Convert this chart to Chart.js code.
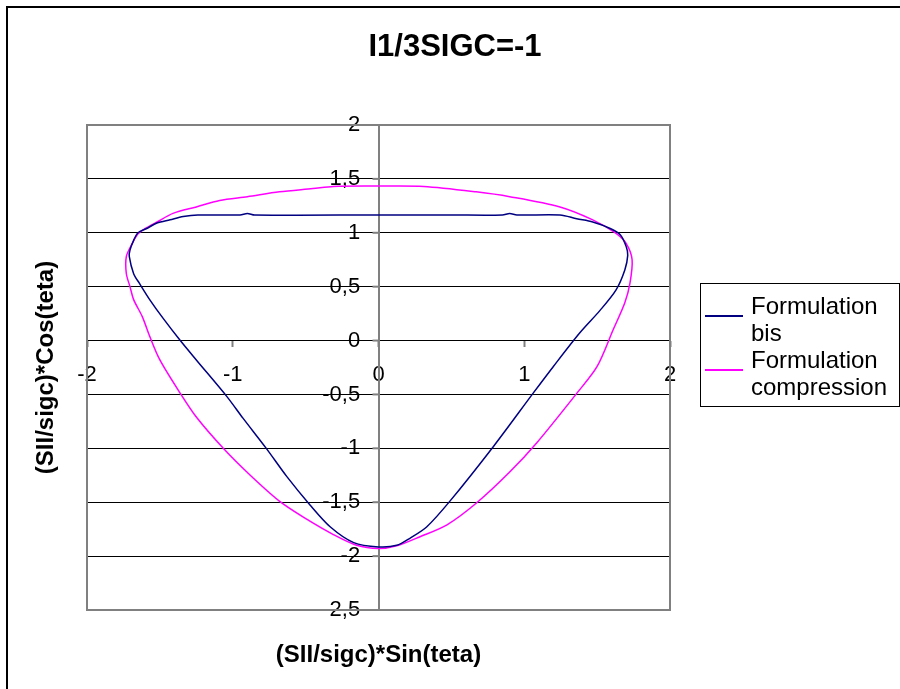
<!DOCTYPE html>
<html>
<head>
<meta charset="utf-8">
<script src="https://cdn.jsdelivr.net/npm/chart.js@4.4.1/dist/chart.umd.min.js"></script>
<style>
  html, body { margin: 0; padding: 0; background: #fff; }
  canvas { display: block; }
</style>
</head>
<body>
<canvas id="chart" width="900" height="689"></canvas>
<script>
// Formulation bis (closed loop, clockwise from top)
const bisX = [0, 0.5, 0.85, 0.9, 0.95, 1.245, 1.36, 1.47, 1.59, 1.66, 1.70, 1.71, 1.69, 1.63, 1.52, 1.38, 1.20, 1.06, 0.79, 0.49, 0.33, 0.22, 0.125, 0,
  -0.17, -0.33, -0.47, -0.63, -0.77, -0.93, -1.04, -1.25, -1.36, -1.48, -1.57, -1.64, -1.68, -1.71, -1.705, -1.68, -1.65, -1.59, -1.52, -1.43, -1.34, -1.24, -0.95, -0.9, -0.85, 0];
const bisY = [1.165, 1.165, 1.165, 1.18, 1.165, 1.165, 1.13, 1.10, 1.04, 0.98, 0.87, 0.79, 0.655, 0.47, 0.28, 0.07, -0.24, -0.49, -0.98, -1.49, -1.73, -1.83, -1.90, -1.915,
  -1.875, -1.73, -1.525, -1.26, -1.0, -0.72, -0.52, -0.18, 0.0, 0.21, 0.38, 0.53, 0.62, 0.78, 0.84, 0.93, 1.0, 1.04, 1.09, 1.12, 1.15, 1.165, 1.165, 1.18, 1.165, 1.165];

// Formulation compression
const compX = [0, 0.31, 0.67, 0.90, 1.245, 1.47, 1.63, 1.70, 1.74, 1.725, 1.69, 1.61, 1.50, 1.36, 1.085, 0.90, 0.67, 0.47, 0.285, 0.125, 0,
  -0.15, -0.31, -0.49, -0.68, -0.88, -1.065, -1.25, -1.36, -1.50, -1.57, -1.62, -1.68, -1.705, -1.73, -1.73, -1.69, -1.65, -1.60, -1.52, -1.41, -1.25, -1.09, -0.90, -0.68, -0.45, -0.31, 0];
const compY = [1.434, 1.43, 1.38, 1.335, 1.24, 1.12, 0.995, 0.90, 0.75, 0.53, 0.35, 0.10, -0.24, -0.49, -0.95, -1.22, -1.51, -1.71, -1.82, -1.905, -1.93,
  -1.90, -1.80, -1.66, -1.49, -1.25, -1.0, -0.71, -0.49, -0.18, 0.04, 0.22, 0.38, 0.5, 0.62, 0.78, 0.90, 0.99, 1.04, 1.10, 1.18, 1.24, 1.30, 1.335, 1.38, 1.41, 1.43, 1.434];

const seriesNames = ["Formulation bis", "Formulation compression"];
const xTicks = [-2, -1, 0, 1, 2];
const yTicks = [-2.5, -2, -1.5, -1, -0.5, 0, 0.5, 1, 1.5, 2];

const FONT = "'Liberation Sans', Arial, sans-serif";

function toPoints(xs, ys) {
  return xs.map((x, i) => ({ x: x, y: ys[i] }));
}

function fmt(v) {
  return String(v).replace(".", ",");
}

// texts, plot frame and legend in the Excel look
const decor = {
  id: "decor",
  beforeDraw(chart) {
    const ctx = chart.ctx;
    ctx.save();
    ctx.fillStyle = "#fff";
    ctx.fillRect(0, 0, chart.width, chart.height);
    ctx.strokeStyle = "#000";
    ctx.lineWidth = 2;
    ctx.strokeRect(7, 7, 1000, 1000);
    ctx.restore();
  },
  beforeDatasetsDraw(chart) {
    const ctx = chart.ctx;
    const a = chart.chartArea;
    ctx.save();
    ctx.strokeStyle = "#808080";
    ctx.lineWidth = 2;
    ctx.strokeRect(a.left, a.top, a.right - a.left, a.bottom - a.top);
    // small tick marks on the left of the vertical axis
    const xs = chart.scales.x.getPixelForValue(0);
    yTicks.forEach((v) => {
      const py = chart.scales.y.getPixelForValue(v);
      ctx.beginPath();
      ctx.moveTo(xs - 6, py);
      ctx.lineTo(xs, py);
      ctx.stroke();
    });
    ctx.restore();
  },
  afterDraw(chart) {
    const ctx = chart.ctx;
    const a = chart.chartArea;
    ctx.save();
    ctx.fillStyle = "#000";
    ctx.textAlign = "center";
    ctx.textBaseline = "middle";

    ctx.font = "bold 31px " + FONT;
    ctx.fillText("I1/3SIGC=-1", 455, 47);

    ctx.font = "bold 24px " + FONT;
    ctx.fillText("(SII/sigc)*Sin(teta)", (a.left + a.right) / 2, 655);

    ctx.translate(46, (a.top + a.bottom) / 2);
    ctx.rotate(-Math.PI / 2);
    ctx.fillText("(SII/sigc)*Cos(teta)", 0, 0);
    ctx.restore();

    // legend
    ctx.save();
    ctx.strokeStyle = "#000";
    ctx.lineWidth = 1;
    ctx.strokeRect(700.5, 283.5, 199, 123);
    ctx.font = "24px " + FONT;
    ctx.textAlign = "left";
    ctx.textBaseline = "alphabetic";
    ctx.fillStyle = "#000";
    chart.data.datasets.forEach((ds, i) => {
      const lines = ds.label.split(" ");
      const y0 = 314 + i * 54;
      ctx.strokeStyle = ds.borderColor;
      ctx.lineWidth = 2;
      ctx.beginPath();
      ctx.moveTo(705, y0 + 2);
      ctx.lineTo(743, y0 + 2);
      ctx.stroke();
      lines.forEach((t, j) => ctx.fillText(t, 751, y0 + j * 27));
    });
    ctx.restore();
  }
};

new Chart(document.getElementById("chart"), {
  type: "scatter",
  data: {
    datasets: [
      {
        label: seriesNames[0],
        data: toPoints(bisX, bisY),
        showLine: true,
        borderColor: "#000080",
        borderWidth: 1.5,
        pointRadius: 0,
        tension: 0.3,
      },
      {
        label: seriesNames[1],
        data: toPoints(compX, compY),
        showLine: true,
        borderColor: "#FF00FF",
        borderWidth: 1.5,
        pointRadius: 0,
        tension: 0.3,
      },
    ],
  },
  options: {
    responsive: false,
    animation: false,
    devicePixelRatio: 1,
    layout: { padding: { left: 87, right: 230, top: 125, bottom: 79 } },
    plugins: {
      legend: { display: false },
      title: { display: false },
      tooltip: { enabled: false },
    },
    scales: {
      x: {
        type: "linear",
        position: { y: 0 },
        min: xTicks[0],
        max: xTicks[xTicks.length - 1],
        afterBuildTicks: (s) => { s.ticks = xTicks.map((v) => ({ value: v })); },
        ticks: {
          color: "#000",
          font: { family: FONT, size: 22 },
          padding: 15,
          maxRotation: 0,
          callback: fmt,
        },
        grid: { drawOnChartArea: false, tickLength: 6, tickColor: "#808080", tickWidth: 2 },
        border: { color: "#000", width: 1 },
      },
      y: {
        type: "linear",
        position: { x: 0 },
        min: yTicks[0],
        max: yTicks[yTicks.length - 1],
        afterBuildTicks: (s) => { s.ticks = yTicks.map((v) => ({ value: v })); },
        ticks: {
          color: "#000",
          font: { family: FONT, size: 22 },
          // labels sit left of the centred axis; trailing spaces give the gap
          callback: (v) => fmt(v) + "   ",
        },
        grid: { color: "#000", lineWidth: 1, drawTicks: false },
        border: { color: "#808080", width: 2 },
      },
    },
  },
  plugins: [decor],
});
</script>
</body>
</html>
